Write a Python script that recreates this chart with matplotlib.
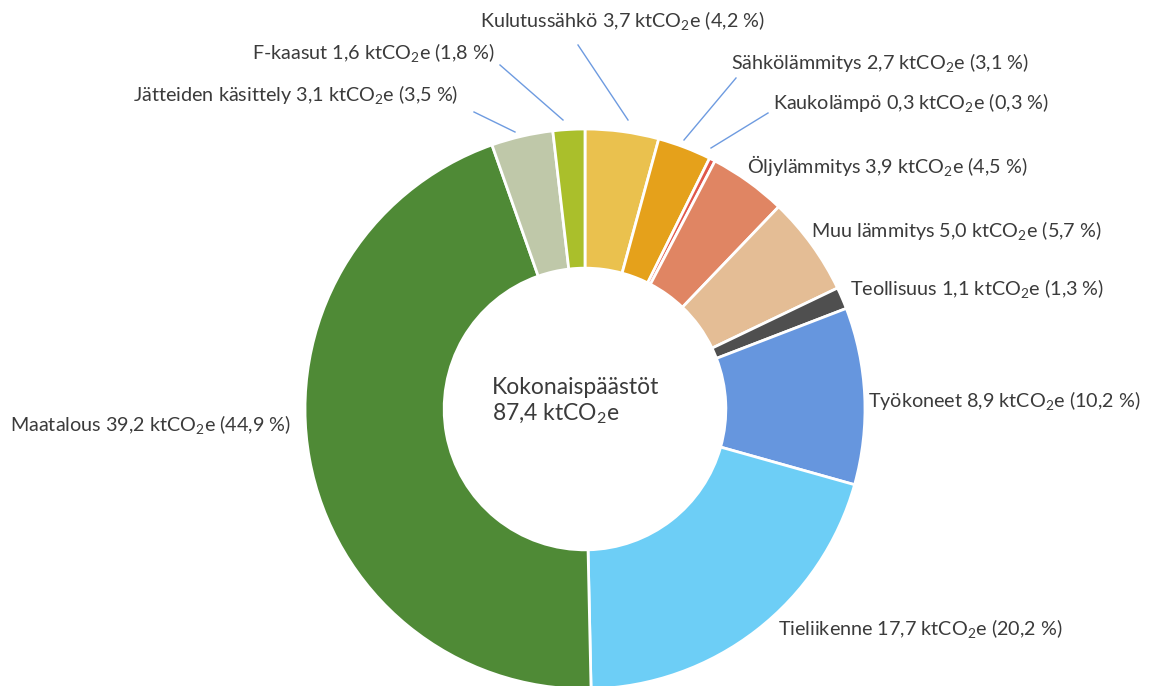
import matplotlib
matplotlib.use("Agg")
import matplotlib.pyplot as plt

plt.rcParams['font.family'] = ['Lato', 'DejaVu Sans']
plt.rcParams['mathtext.fontset'] = 'custom'
plt.rcParams['mathtext.rm'] = 'Lato'
plt.rcParams['mathtext.it'] = 'Lato'
plt.rcParams['mathtext.default'] = 'regular'

categories = ["Kulutussähkö", "Sähkölämmitys", "Kaukolämpö", "Öljylämmitys",
              "Muu lämmitys", "Teollisuus", "Työkoneet", "Tieliikenne",
              "Maatalous", "Jätteiden käsittely", "F-kaasut"]
values = [3.7, 2.7, 0.3, 3.9, 5.0, 1.1, 8.9, 17.7, 39.2, 3.1, 1.6]
percents = [4.2, 3.1, 0.3, 4.5, 5.7, 1.3, 10.2, 20.2, 44.9, 3.5, 1.8]
total_label = 87.4
colors = ["#EAC14E", "#E5A11B", "#E0574A", "#E08563", "#E4BD95", "#4F4F4F",
          "#6696DE", "#6DCEF6", "#4F8A36", "#BFC8A9", "#AABF2B"]

W, H = 1157, 686
fig = plt.figure(figsize=(W / 100, H / 100), dpi=100)
ax = fig.add_axes([0, 0, 1, 1])

cx, cy, R = 585, H - 409, 280
ax.pie(values, colors=colors, startangle=90, counterclock=False,
       center=(cx, cy), radius=R,
       wedgeprops=dict(width=R * 0.497, edgecolor="white", linewidth=2))
ax.set_xlim(0, W)
ax.set_ylim(0, H)
ax.set_aspect('equal', adjustable='box')
ax.axis('off')

def fmt(v):
    return f"{v:.1f}".replace(".", ",")

# label anchor: (x_left, y_center) in pixel coordinates (from top)
label_pos = {
    "Kulutussähkö": (480, 21),
    "Sähkölämmitys": (731, 63),
    "Kaukolämpö": (773, 103),
    "Öljylämmitys": (747, 165),
    "Muu lämmitys": (811, 230),
    "Teollisuus": (850, 289),
    "Työkoneet": (868, 400),
    "Tieliikenne": (778, 629),
    "Maatalous": (10, 425),
    "Jätteiden käsittely": (133, 94),
    "F-kaasut": (252, 53),
}
leaders = {
    "Kulutussähkö": ((578, 45), (628, 120)),
    "Sähkölämmitys": ((736, 78), (684, 140)),
    "Kaukolämpö": ((768, 113), (711, 148)),
    "Jätteiden käsittely": ((474, 112), (515, 132)),
    "F-kaasut": ((500, 65), (563, 120)),
}
txtcol = "#3B3B3B"
fs = 14.2
for name, v, p in zip(categories, values, percents):
    x, y = label_pos[name]
    s = f"{name} {fmt(v)} ktCO$_2$e ({fmt(p)} %)"
    ax.text(x, H - y, s, ha="left", va="center", fontsize=fs, color=txtcol)
    if name in leaders:
        (x1, y1), (x2, y2) = leaders[name]
        ax.plot([x1, x2], [H - y1, H - y2], color="#6E9BE0", lw=1)

ax.text(492, H - 387, "Kokonaispäästöt", ha="left", va="center",
        fontsize=16.5, color=txtcol)
ax.text(492, H - 414, f"{fmt(total_label)} ktCO$_2$e", ha="left", va="center",
        fontsize=16.5, color=txtcol)

fig.savefig("out.png", dpi=100)
